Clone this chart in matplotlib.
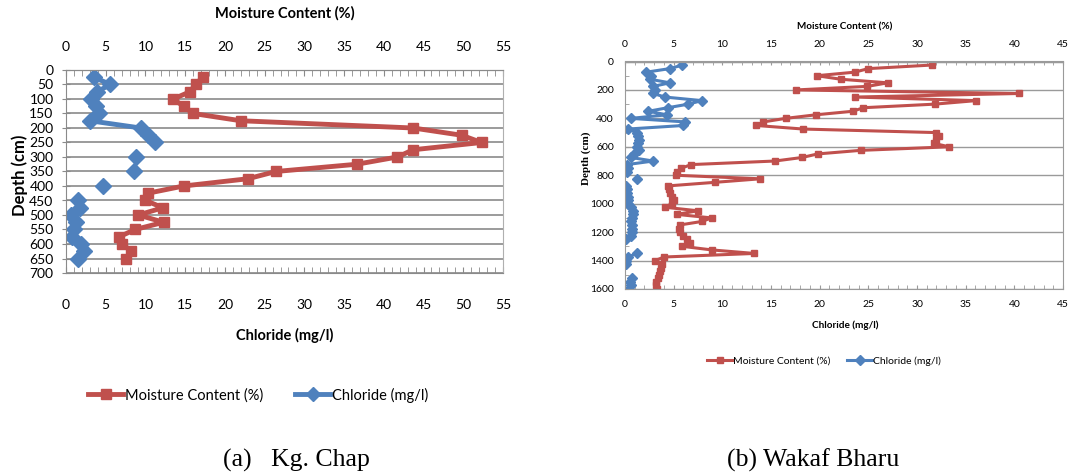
import numpy as np
import matplotlib.pyplot as plt
from matplotlib.lines import Line2D

plt.rcParams['font.family'] = ['Lato', 'DejaVu Sans']

RED = '#C0504D'
BLUE = '#4F81BD'
nan = np.nan

# (a) Kg. Chap
depth_a = [25, 50, 75, 100, 125, 150, 175, 200, 225, 250, 275, 300, 325,
           350, 375, 400, 425, 450, 475, 500, 525, 550, 575, 600, 625, 650]
moist_a = [17.2, 16.3, 15.6, 13.5, 14.8, 16.0, 22.0, 43.7, 49.8, 52.3, 43.7, 41.7, 36.6,
           26.4, 22.9, 14.8, 10.3, 10.0, 12.2, 9.1, 12.3, 8.7, 6.7, 7.1, 8.2, 7.5]
chl_a = [3.5, 5.6, 3.9, 3.2, 3.8, 4.1, 3.0, 9.4, 10.3, 11.2, nan, 8.8, nan,
         8.5, nan, 4.6, nan, 1.5, 1.7, 0.6, 1.2, 1.0, 0.7, 1.9, 2.3, 1.5]

# (b) Wakaf Bharu
depth_b = [25, 50, 75, 100, 125, 150, 175, 200, 225, 250, 275, 300, 325, 350, 375, 400,
           425, 450, 475, 500, 525, 550, 575, 600, 625, 650, 675, 700, 725, 750, 775, 800,
           825, 850, 875, 900, 925, 950, 975, 1000, 1025, 1050, 1075, 1100, 1125, 1150, 1175, 1200,
           1225, 1250, 1275, 1300, 1325, 1350, 1375, 1400, 1425, 1450, 1475, 1500, 1525, 1550, 1575, 1600]
moist_b = [31.5, 25.0, 23.6, 19.7, 22.2, 27.0, 24.9, 17.6, 40.5, 23.6, 36.1, 31.8, 24.5, 23.4, 19.6, 16.5,
           14.2, 13.5, 18.3, 32.0, 32.3, 32.0, 31.7, 33.3, 24.2, 19.8, 18.2, 15.4, 6.8, 5.8, 5.3, 5.2,
           13.9, 9.2, 4.4, 4.5, 4.6, 4.8, 5.0, 4.8, 4.1, 7.5, 5.3, 8.9, 7.9, 5.6, 5.5, 5.7,
           6.0, 6.4, 6.7, 5.9, 8.9, 13.3, 4.0, 3.1, 3.8, 3.7, 3.6, 3.5, 3.4, 3.2, 3.2, 3.3]
chl_b = [5.9, 4.6, 2.2, 2.7, 2.6, 4.6, 2.9, 3.1, 2.9, 4.1, 7.9, 6.5, 4.4, 2.4, 4.3, 0.6,
         6.2, 6.0, 0.3, 1.2, 1.3, 1.4, 1.3, 1.2, 1.4, 0.9, 0.6, 2.9, 0.2, 0.3, 0.2, nan,
         1.2, nan, 0.1, 0.2, 0.2, 0.3, 0.3, 0.3, 0.6, 0.8, 0.8, 0.7, 0.6, 0.7, 0.7, 0.7,
         0.6, 0.1, nan, nan, nan, 1.2, 0.3, 0.1, 0.1, nan, nan, nan, 0.7, 0.5, 0.6, 0.4]

W, H = 1070, 476
fig = plt.figure(figsize=(W / 100, H / 100), dpi=100)


def box(x0, y0, x1, y1):
    return [x0 / W, 1 - y1 / H, (x1 - x0) / W, (y1 - y0) / H]


# ---------- left chart ----------
ax1 = fig.add_axes(box(66, 70, 503, 273))
ax1.plot(moist_a, depth_a, color=RED, lw=3.5, marker='s', ms=7.5)
ax1.plot(chl_a, depth_a, color=BLUE, lw=3.5, marker='D', ms=8)
ax1.set_xlim(0, 55)
ax1.set_ylim(700, 0)
ax1.set_yticks(range(0, 701, 50))
ax1.set_xticks(range(0, 56, 5))
ax1.set_xticks(range(0, 56), minor=True)
ax1.yaxis.grid(True, color='#8a8a8a', lw=1.2)
ax1.set_axisbelow(True)
top1 = ax1.secondary_xaxis('top')
top1.set_xticks(range(0, 56, 5))
top1.set_xticks(range(0, 56), minor=True)
top1.tick_params(which='both', direction='in', length=4, color='#8a8a8a', labelsize=10, pad=12)
top1.spines['top'].set_color('#8a8a8a')
for s in ['left', 'bottom', 'top']:
    ax1.spines[s].set_color('#8a8a8a')
ax1.spines['right'].set_color('#b0b0b0')
ax1.tick_params(axis='x', which='both', direction='in', length=4, color='#8a8a8a',
                labelsize=10, pad=19)
ax1.tick_params(axis='y', direction='inout', length=6, color='#8a8a8a', labelsize=10, pad=6)

fig.text(285 / W, 1 - 13 / H, 'Moisture Content (%)', ha='center', va='center',
         fontsize=10.5, fontweight='bold')
fig.text(285 / W, 1 - 335 / H, 'Chloride (mg/l)', ha='center', va='center',
         fontsize=10.5, fontweight='bold')
fig.text(20 / W, 1 - 175 / H, 'Depth (cm)', ha='center', va='center', rotation=90,
         fontsize=12, fontweight='bold')

h1 = [Line2D([], [], color=RED, lw=3.5, marker='s', ms=7),
      Line2D([], [], color=BLUE, lw=3.5, marker='D', ms=7)]
fig.legend(h1, ['Moisture Content (%)', 'Chloride (mg/l)'], loc='center',
           bbox_to_anchor=(258 / W, 1 - 395 / H), ncol=2, frameon=False,
           fontsize=10.5, handlelength=2.4, handletextpad=0.1, columnspacing=2.2)

fig.text(296 / W, 1 - 460 / H, '(a)   Kg. Chap', ha='center', va='center',
         fontsize=18.5, family=['Liberation Serif', 'DejaVu Serif'])

# ---------- right chart ----------
ax2 = fig.add_axes(box(625, 61.5, 1063, 289))
ax2.plot(moist_b, depth_b, color=RED, lw=2.2, marker='s', ms=5)
ax2.plot(chl_b, depth_b, color=BLUE, lw=2.2, marker='D', ms=5)
ax2.set_xlim(0, 45)
ax2.set_ylim(1600, 0)
ax2.set_yticks(range(0, 1601, 200))
ax2.set_yticks(range(0, 1601, 100), minor=True)
ax2.set_xticks(range(0, 46, 5))
ax2.set_xticks(range(0, 46), minor=True)
ax2.yaxis.grid(True, color='#9a9a9a', lw=1)
ax2.set_axisbelow(True)
top2 = ax2.secondary_xaxis('top')
top2.set_xticks(range(0, 46, 5))
top2.set_xticks(range(0, 46), minor=True)
top2.tick_params(which='both', direction='in', length=3, color='#9a9a9a', labelsize=7.5, pad=9)
top2.spines['top'].set_color('#9a9a9a')
for s in ['left', 'bottom', 'top', 'right']:
    ax2.spines[s].set_color('#9a9a9a')
ax2.tick_params(axis='x', which='both', direction='in', length=3, color='#9a9a9a',
                labelsize=7.5, pad=8)
ax2.tick_params(axis='y', which='both', direction='in', length=3, color='#9a9a9a',
                labelsize=7.5, pad=8)

fig.text(845 / W, 1 - 27 / H, 'Moisture Content (%)', ha='center', va='center',
         fontsize=7.2, fontweight='bold')
fig.text(845 / W, 1 - 325 / H, 'Chloride (mg/l)', ha='center', va='center',
         fontsize=7.2, fontweight='bold')
fig.text(586 / W, 1 - 158 / H, 'Depth (cm)', ha='center', va='center', rotation=90,
         fontsize=8, fontweight='bold', family=['Liberation Serif', 'DejaVu Serif'])

h2 = [Line2D([], [], color=RED, lw=2.2, marker='s', ms=5),
      Line2D([], [], color=BLUE, lw=2.2, marker='D', ms=5)]
fig.legend(h2, ['Moisture Content (%)', 'Chloride (mg/l)'], loc='center',
           bbox_to_anchor=(824 / W, 1 - 361 / H), ncol=2, frameon=False,
           fontsize=7.5, handlelength=2.4, handletextpad=0.1, columnspacing=1.6)

fig.text(813 / W, 1 - 460 / H, '(b) Wakaf Bharu', ha='center', va='center',
         fontsize=18.5, family=['Liberation Serif', 'DejaVu Serif'])

fig.savefig('out.png', dpi=100)
